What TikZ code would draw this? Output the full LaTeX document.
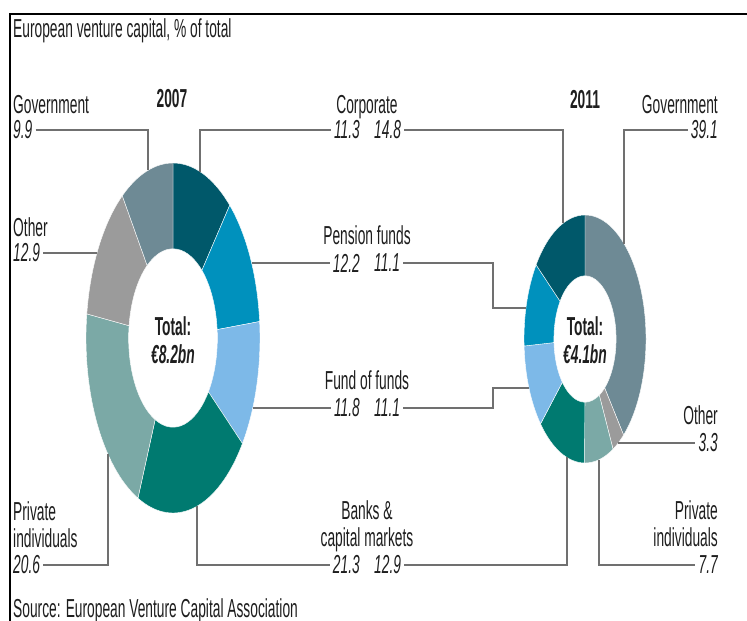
\documentclass[tikz,border=0pt]{standalone}
\usepackage{fontspec}
\setmainfont[FakeStretch=0.53]{Liberation Sans}
\definecolor{ccorp}{HTML}{00586A}
\definecolor{cpens}{HTML}{0091BD}
\definecolor{cfund}{HTML}{7DB9E8}
\definecolor{cbank}{HTML}{007A70}
\definecolor{cpriv}{HTML}{7BA9A6}
\definecolor{cother}{HTML}{9B9B9B}
\definecolor{cgov}{HTML}{6E8A95}
\definecolor{cline}{HTML}{707070}
\definecolor{ctext}{HTML}{1E1E1E}
\newcommand\dslice[3]{\filldraw[fill=#3, draw=white, line width=0.4pt] (#1:1pt) arc[start angle=#1,end angle=#2,radius=1pt] -- (#2:0.51pt) arc[start angle=#2,end angle=#1,radius=0.51pt] -- cycle;}
\begin{document}
\begin{tikzpicture}[x=1pt,y=-1pt,
  lab/.style={font=\fontsize{26}{28}\selectfont, text=ctext, inner sep=0pt},
  yr/.style={font=\fontsize{26}{28}\selectfont\bfseries, text=ctext, inner sep=0pt},
  num/.style={font=\fontsize{26}{28}\selectfont\itshape, text=ctext, inner xsep=3pt, inner ysep=0pt},
  tot/.style={font=\fontsize{26}{28}\selectfont\bfseries, text=ctext, inner sep=0pt},
  totv/.style={font=\fontsize{26}{28}\selectfont\bfseries\itshape, text=ctext, inner sep=0pt},
  lead/.style={draw=cline, line width=1.7pt},
  frame/.style={draw=black, line width=1.8pt}]
\useasboundingbox (0,0) rectangle (747,621);
\fill[white] (0,0) rectangle (747,621);
% frame
\coordinate (fa) at (10,621);
\coordinate (fb) at (10,14);
\coordinate (fc) at (747,14);
\draw[frame] (fa) -- (fb) -- (fc);
% donut 2007
\begin{scope}[shift={(173,338)}, xscale=87, yscale=175]
\dslice{90}{49.32}{ccorp}
\dslice{49.32}{5.4}{cpens}
\dslice{5.4}{-37.08}{cfund}
\dslice{-37.08}{-113.76}{cbank}
\dslice{-113.76}{-187.92}{cpriv}
\dslice{-187.92}{-234.36}{cother}
\dslice{-234.36}{-270}{cgov}
\end{scope}
% donut 2011
\begin{scope}[shift={(585,339)}, xscale=61, yscale=124]
\dslice{90}{-50.76}{cgov}
\dslice{-50.76}{-62.64}{cother}
\dslice{-62.64}{-90.36}{cpriv}
\dslice{-90.36}{-136.8}{cbank}
\dslice{-136.8}{-176.76}{cfund}
\dslice{-176.76}{-216.72}{cpens}
\dslice{-216.72}{-270}{ccorp}
\end{scope}
% title and source
\node[lab, anchor=base west] (title) at (13,37) {European venture capital, \% of total};
\node[lab, anchor=base west] (source) at (13,617) {Source: European Venture Capital Association};
\node[yr, anchor=base] (y07) at (172,107) {2007};
\node[yr, anchor=base] (y11) at (585,108) {2011};
% totals
\node[tot, anchor=base] (t07) at (173,335) {Total:};
\node[totv, anchor=base] (v07) at (173,363) {€8.2bn};
\node[tot, anchor=base] (t11) at (585,335) {Total:};
\node[totv, anchor=base] (v11) at (585,363) {€4.1bn};
% left labels
\node[lab, anchor=base west] (g07l) at (13,113) {Government};
\node[num, anchor=west] (g07n) at (10,130) {9.9};
\node[lab, anchor=base west] (o07l) at (13,236) {Other};
\node[num, anchor=west] (o07n) at (10,253) {12.9};
\node[lab, anchor=base west] (pr07a) at (13,520) {Private};
\node[lab, anchor=base west] (pr07b) at (13,547) {individuals};
\node[num, anchor=west] (pr07n) at (10,565) {20.6};
% centre labels
\node[lab, anchor=base] (cl) at (367,113) {Corporate};
\node[num, anchor=east] (c07n) at (363,130) {11.3};
\node[num, anchor=west] (c11n) at (371,130) {14.8};
\node[lab, anchor=base] (pl) at (367,244) {Pension funds};
\node[num, anchor=east] (p07n) at (363,263) {12.2};
\node[num, anchor=west] (p11n) at (371,263) {11.1};
\node[lab, anchor=base] (fl) at (367,389) {Fund of funds};
\node[num, anchor=east] (f07n) at (363,408) {11.8};
\node[num, anchor=west] (f11n) at (371,408) {11.1};
\node[lab, anchor=base] (bla) at (367,519) {Banks \&};
\node[lab, anchor=base] (blb) at (367,546) {capital markets};
\node[num, anchor=east] (b07n) at (363,565) {21.3};
\node[num, anchor=west] (b11n) at (371,565) {12.9};
% right labels
\node[lab, anchor=base east] (g11l) at (718,113) {Government};
\node[num, anchor=east] (g11n) at (721,130) {39.1};
\node[lab, anchor=base east] (o11l) at (718,424) {Other};
\node[num, anchor=east] (o11n) at (721,443) {3.3};
\node[lab, anchor=base east] (pr11a) at (718,519) {Private};
\node[lab, anchor=base east] (pr11b) at (718,546) {individuals};
\node[num, anchor=east] (pr11n) at (721,565) {7.7};
% attachment points on the rings
\coordinate (g07p) at (148,170);
\coordinate (c07p) at (200,172);
\coordinate (o07p) at (97,253);
\coordinate (p07p) at (252,263);
\coordinate (f07p) at (253,408);
\coordinate (b07p) at (197,506);
\coordinate (pr07p) at (108,454);
\coordinate (c11p) at (563,223);
\coordinate (g11p) at (624,244);
\coordinate (p11k) at (493,308);
\coordinate (p11p) at (526,308);
\coordinate (f11k) at (493,388);
\coordinate (f11p) at (529,388);
\coordinate (b11p) at (567,457);
\coordinate (pr11p) at (599,460);
\coordinate (o11p) at (618,443);
% leader lines
\draw[lead] (g07n.east) -| (g07p);
\draw[lead] (c07p) |- (c07n.west);
\draw[lead] (o07n.east) -- (o07p);
\draw[lead] (p07p) -- (p07n.west);
\draw[lead] (f07p) -- (f07n.west);
\draw[lead] (b07p) |- (b07n.west);
\draw[lead] (pr07n.east) -| (pr07p);
\draw[lead] (c11n.east) -| (c11p);
\draw[lead] (g11p) |- (g11n.west);
\draw[lead] (p11n.east) -| (p11k) -- (p11p);
\draw[lead] (f11n.east) -| (f11k) -- (f11p);
\draw[lead] (b11n.east) -| (b11p);
\draw[lead] (pr11p) |- (pr11n.west);
\draw[lead] (o11p) -- (o11n.west);
\end{tikzpicture}
\end{document}
